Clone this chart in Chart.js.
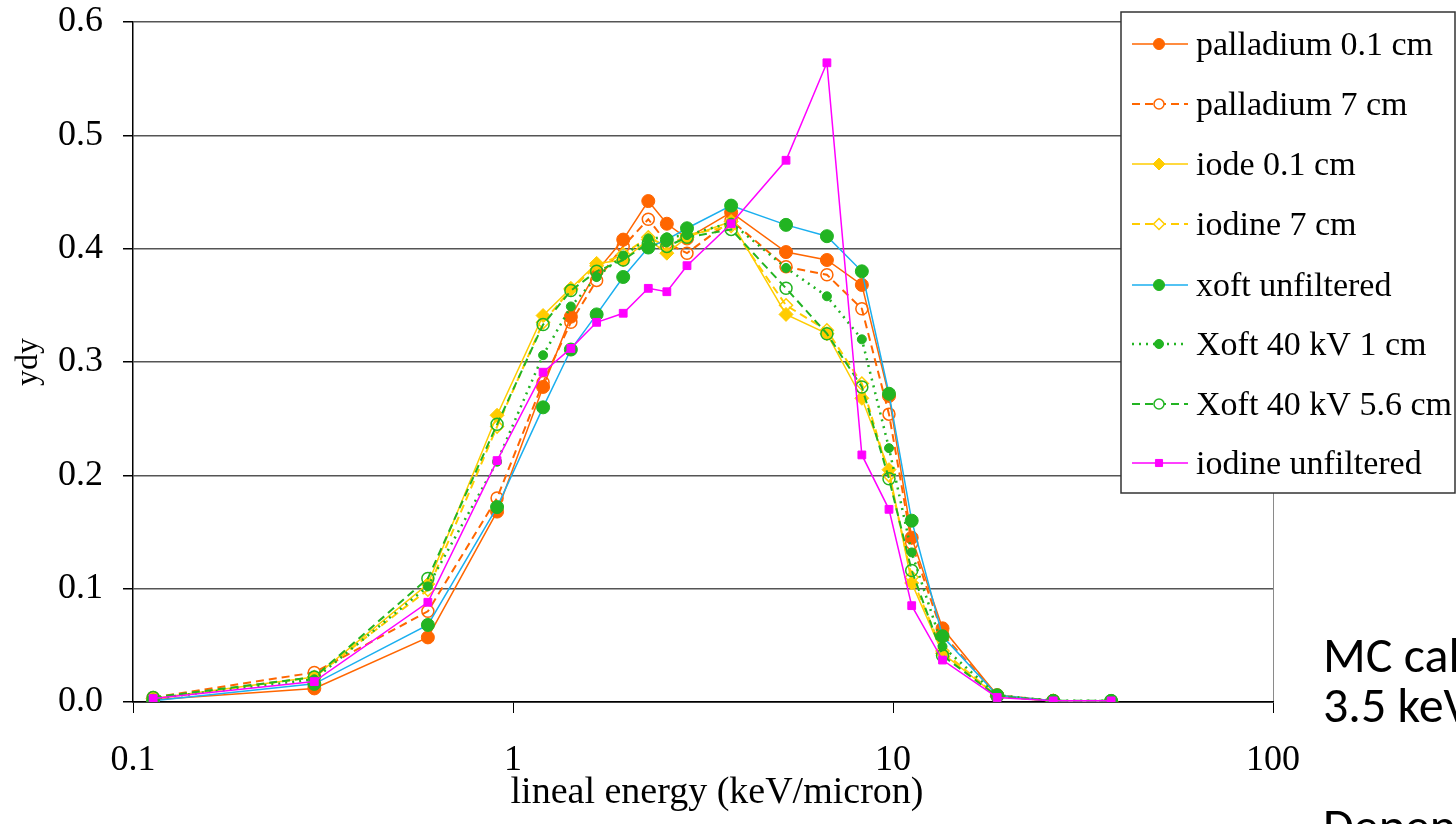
<!DOCTYPE html>
<html><head><meta charset="utf-8">
<script src="https://cdn.jsdelivr.net/npm/chart.js@4.4.0/dist/chart.umd.min.js"></script>
<style>html,body{margin:0;padding:0;background:#fff;overflow:hidden}</style>
</head><body>
<canvas id="c" width="1456" height="824"></canvas>
<script>
// ---- data ----
const energies = [0.113, 0.30, 0.597, 0.908, 1.20, 1.42, 1.66, 1.95, 2.27, 2.54, 2.87, 3.75, 5.23, 6.70, 8.28, 9.76, 11.2, 13.5, 18.8, 26.4, 37.5];
const seriesNames = ["palladium 0.1 cm", "palladium 7 cm", "iode 0.1 cm", "iodine 7 cm", "xoft unfiltered", "Xoft 40 kV 1 cm", "Xoft 40 kV 5.6 cm", "iodine unfiltered"];
const palladium01 = [0.002, 0.012, 0.057, 0.168, 0.278, 0.340, 0.380, 0.408, 0.442, 0.422, 0.409, 0.432, 0.397, 0.390, 0.368, 0.270, 0.145, 0.065, 0.006, 0.001, 0.000];
const palladium7  = [0.004, 0.026, 0.080, 0.180, 0.282, 0.335, 0.372, 0.402, 0.426, 0.405, 0.396, 0.425, 0.384, 0.377, 0.347, 0.254, 0.140, 0.060, 0.006, 0.001, 0.000];
const iode01      = [0.003, 0.022, 0.104, 0.253, 0.341, 0.365, 0.387, 0.390, 0.408, 0.396, 0.410, 0.424, 0.342, 0.325, 0.268, 0.205, 0.105, 0.043, 0.005, 0.001, 0.000];
const iodine7     = [0.003, 0.022, 0.099, 0.243, 0.335, 0.364, 0.385, 0.395, 0.410, 0.402, 0.412, 0.420, 0.350, 0.328, 0.281, 0.200, 0.110, 0.045, 0.005, 0.001, 0.000];
const xoftUnf     = [0.001, 0.016, 0.068, 0.172, 0.260, 0.311, 0.342, 0.375, 0.401, 0.408, 0.418, 0.438, 0.421, 0.411, 0.380, 0.272, 0.160, 0.058, 0.006, 0.001, 0.001];
const xoft1       = [0.003, 0.020, 0.102, 0.212, 0.306, 0.349, 0.375, 0.394, 0.409, 0.410, 0.412, 0.423, 0.383, 0.358, 0.320, 0.224, 0.132, 0.049, 0.006, 0.001, 0.001];
const xoft56      = [0.004, 0.022, 0.109, 0.245, 0.333, 0.363, 0.380, 0.390, 0.405, 0.402, 0.410, 0.417, 0.365, 0.325, 0.278, 0.197, 0.116, 0.041, 0.005, 0.001, 0.001];
const iodineUnf   = [0.003, 0.018, 0.088, 0.213, 0.291, 0.312, 0.335, 0.343, 0.365, 0.362, 0.385, 0.422, 0.478, 0.564, 0.218, 0.170, 0.085, 0.037, 0.004, 0.001, 0.001];
const xTickValues = [0.1, 1, 10, 100];
const xTickLabels = ["0.1", "1", "10", "100"];
const yTickLabels = ["0.0", "0.1", "0.2", "0.3", "0.4", "0.5", "0.6"];
const xTitle = "lineal energy (keV/micron)";
const yTitle = "ydy";
const sideText = ["MC calc", "3.5 keV", "Depend"];

// ---- styles ----
const ORANGE = '#FF6600', YELLOW = '#FFCC00', GREEN = '#22B422', CYAN = '#1AAFEF', MAGENTA = '#FF00FF';
const NONE = 'rgba(0,0,0,0)';
const styles = [
  {line: ORANGE, dash: [], lw: 1.5, shape: 'circle', r: 6.5, fill: ORANGE, stroke: ORANGE, plw: 1, lr: 5.5},
  {line: ORANGE, dash: [8, 5], lw: 2, shape: 'circle', r: 6, fill: NONE, stroke: ORANGE, plw: 1.5, lr: 5},
  {line: YELLOW, dash: [], lw: 1.5, shape: 'rectRot', r: 7, fill: YELLOW, stroke: YELLOW, plw: 1, lr: 6},
  {line: YELLOW, dash: [8, 5], lw: 2, shape: 'rectRot', r: 6.5, fill: NONE, stroke: YELLOW, plw: 1.5, lr: 5.5},
  {line: CYAN, dash: [], lw: 1.5, shape: 'circle', r: 6.5, fill: GREEN, stroke: GREEN, plw: 1, lr: 5.5},
  {line: GREEN, dash: [2, 5], lw: 2.5, shape: 'circle', r: 4.5, fill: GREEN, stroke: GREEN, plw: 1, lr: 4.5},
  {line: GREEN, dash: [8, 5], lw: 2, shape: 'circle', r: 6, fill: NONE, stroke: GREEN, plw: 1.5, lr: 5},
  {line: MAGENTA, dash: [], lw: 1.5, shape: 'rect', r: 5.5, fill: MAGENTA, stroke: MAGENTA, plw: 1, lr: 5}
];
const allSeries = [palladium01, palladium7, iode01, iodine7, xoftUnf, xoft1, xoft56, iodineUnf];

const datasets = allSeries.map((vals, i) => {
  const s = styles[i];
  return {
    label: seriesNames[i],
    data: energies.map((x, k) => ({x: x, y: vals[k]})),
    borderColor: s.line,
    borderWidth: s.lw,
    borderDash: s.dash,
    pointStyle: s.shape,
    pointRadius: s.r,
    pointHoverRadius: s.r,
    pointBackgroundColor: s.fill,
    pointBorderColor: s.stroke,
    pointBorderWidth: s.plw,
    tension: 0,
    fill: false,
    order: allSeries.length - i
  };
});

function drawMarker(ctx, s, x, y, r) {
  ctx.save();
  ctx.setLineDash([]);
  ctx.beginPath();
  if (s.shape === 'circle') {
    ctx.arc(x, y, r, 0, Math.PI * 2);
  } else if (s.shape === 'rectRot') {
    ctx.moveTo(x, y - r); ctx.lineTo(x + r, y); ctx.lineTo(x, y + r); ctx.lineTo(x - r, y); ctx.closePath();
  } else {
    const h = r * Math.SQRT1_2;
    ctx.rect(x - h, y - h, 2 * h, 2 * h);
  }
  ctx.fillStyle = s.fill === NONE ? '#fff' : s.fill;
  ctx.fill();
  ctx.lineWidth = s.plw;
  ctx.strokeStyle = s.stroke;
  ctx.stroke();
  ctx.restore();
}

const serif = '"Liberation Serif", "Times New Roman", serif';
const extras = {
  id: 'extras',
  afterDraw(chart) {
    const ctx = chart.ctx;
    const ca = chart.chartArea;
    ctx.save();
    // axis titles
    ctx.fillStyle = '#000';
    ctx.font = '38px ' + serif;
    ctx.textAlign = 'center';
    ctx.textBaseline = 'middle';
    ctx.fillText(xTitle, 717, 793);
    ctx.save();
    ctx.translate(29, (ca.top + ca.bottom) / 2);
    ctx.rotate(-Math.PI / 2);
    ctx.font = '32px ' + serif;
    ctx.fillText(yTitle, 0, 0);
    ctx.restore();
    // legend
    const bx = 1121, by = 12, bw = 334, bh = 481;
    ctx.fillStyle = '#fff';
    ctx.fillRect(bx, by, bw, bh);
    ctx.strokeStyle = '#333';
    ctx.lineWidth = 1.5;
    ctx.strokeRect(bx, by, bw, bh);
    const rowY = [44, 104, 164, 224, 285, 344, 404, 463];
    seriesNames.forEach((name, i) => {
      const s = styles[i];
      const y = rowY[i];
      ctx.save();
      ctx.strokeStyle = s.line;
      ctx.lineWidth = s.lw;
      ctx.setLineDash(s.dash);
      ctx.beginPath(); ctx.moveTo(1132, y); ctx.lineTo(1188, y); ctx.stroke();
      ctx.restore();
      drawMarker(ctx, s, 1159, y, s.lr);
      ctx.fillStyle = '#000';
      ctx.font = '34px ' + serif;
      ctx.textBaseline = 'middle';
      ctx.textAlign = 'left';
      ctx.fillText(name, 1196, y + 2);
    });
    ctx.fillStyle = '#000';
    ctx.font = '50px Carlito, Lato, sans-serif';
    ctx.textBaseline = 'alphabetic';
    ctx.textAlign = 'left';
    ctx.fillText(sideText[0], 1323, 672);
    ctx.fillText(sideText[1], 1323, 722);
    ctx.fillText(sideText[2], 1323, 843);
    ctx.restore();
  }
};

new Chart(document.getElementById('c'), {
  type: 'line',
  data: {datasets},
  plugins: [extras],
  options: {
    responsive: false,
    devicePixelRatio: 1,
    animation: false,
    events: [],
    layout: {padding: {left: 0, top: 22, right: 183, bottom: 0}},
    plugins: {legend: {display: false}, tooltip: {enabled: false}},
    scales: {
      x: {
        type: 'logarithmic',
        min: 0.1, max: 100,
        afterBuildTicks(scale) { scale.ticks = xTickValues.map(v => ({value: v})); },
        afterFit(scale) { scale.height = 122; scale.paddingLeft = 0; scale.paddingRight = 0; },
        ticks: {
          autoSkip: false, maxRotation: 0,
          color: '#000',
          font: {family: serif, size: 36},
          padding: 26,
          callback(v) { const k = xTickValues.indexOf(v); return k >= 0 ? xTickLabels[k] : ''; }
        },
        grid: {
          color: c => (c.tick && c.tick.value === 100) ? '#8a8a8a' : NONE,
          lineWidth: 1,
          tickColor: '#000',
          tickLength: 11,
          drawTicks: true
        },
        border: {display: true, color: '#000', width: 1.5},
        title: {display: false}
      },
      y: {
        min: 0, max: 0.6,
        afterBuildTicks(scale) { scale.ticks = yTickLabels.map((t, k) => ({value: k * 0.1})); },
        afterFit(scale) { scale.width = 133; scale.paddingTop = 0; scale.paddingBottom = 0; },
        ticks: {
          color: '#000',
          font: {family: serif, size: 36},
          padding: 20,
          callback(v, idx) { return yTickLabels[idx]; }
        },
        grid: {
          color: c => (c.tick && Math.abs(c.tick.value) < 1e-9) ? '#000' : '#555',
          lineWidth: 1.5,
          tickColor: '#000',
          tickLength: 10
        },
        border: {display: true, color: '#000', width: 1.5},
        title: {display: false}
      }
    }
  }
});
</script>
</body></html>
